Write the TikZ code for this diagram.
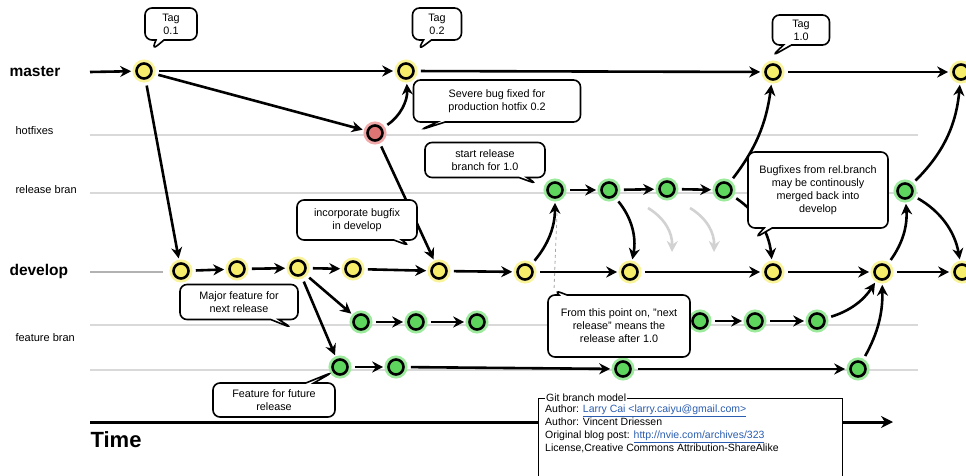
\documentclass[tikz,border=0pt]{standalone}
\usepackage{fontspec}
\setmainfont{Liberation Sans}
\usetikzlibrary{arrows.meta,shapes.callouts}
\definecolor{cmtyellow}{HTML}{F6EE6A}
\definecolor{haloyellow}{HTML}{F9F39A}
\definecolor{cmtgreen}{HTML}{5ED65E}
\definecolor{halogreen}{HTML}{9CEB9C}
\definecolor{cmtred}{HTML}{DE7474}
\definecolor{halored}{HTML}{F0A8A8}
\definecolor{linkblue}{HTML}{2A5DB0}
\newcommand{\weblink}[1]{\textcolor{linkblue}{\underline{#1}}}
\begin{document}
\begin{tikzpicture}[x=1pt,y=-1pt,
cmt/.style={circle,draw,line width=2.6pt,minimum size=15pt,inner sep=0pt},
cY/.style={cmt,fill=cmtyellow,preaction={draw=haloyellow,line width=8pt}},
cG/.style={cmt,fill=cmtgreen,preaction={draw=halogreen,line width=8pt}},
cR/.style={cmt,fill=cmtred,preaction={draw=halored,line width=8pt}},
ar/.style={line width=2.6pt,-{Stealth[length=11pt,width=11pt]},shorten >=4pt,shorten <=6pt},
gar/.style={ar,draw=gray!35,shorten >=0pt,shorten <=0pt},
lane/.style={gray!30,line width=2.2pt},
lbl/.style={anchor=west,font=\fontsize{11}{13}\selectfont},
lblbig/.style={anchor=west,font=\fontsize{15.5}{18}\selectfont\bfseries},
bubble/.style={rectangle callout,draw,line width=1.6pt,fill=white,rounded corners=7pt,align=center,font=\fontsize{10.8}{13}\selectfont,callout pointer width=8pt,inner sep=0pt}]
\useasboundingbox(0,0) rectangle (966,476);
\coordinate(HOTA) at (90,135);
\coordinate(HOTB) at (918,135);
\coordinate(RELA) at (90,193);
\coordinate(RELB) at (918,193);
\coordinate(FEATA) at (90,325);
\coordinate(FEATB) at (918,325);
\coordinate(FUTA) at (90,370);
\coordinate(FUTB) at (918,370);
\coordinate(DEVA) at (90,272);
\coordinate(DEVB) at (163,272);
\draw[lane](HOTA)--(HOTB);
\draw[lane](RELA)--(RELB);
\draw[lane](FEATA)--(FEATB);
\draw[lane](FUTA)--(FUTB);
\draw[gray!60,line width=2.6pt](DEVA)--(DEVB);
\node[lblbig](MASTERL) at (6,72){master};
\node[lbl](HOTL) at (12,131){hotfixes};
\node[lbl](RELL) at (12,190){release bran};
\node[lblbig](DEVL) at (6,271){develop};
\node[lbl](FEATL) at (12,338){feature bran};
\node[cY](M1) at (144,71){};
\node[cY](M2) at (406,71){};
\node[cY](M3) at (773,72){};
\node[cY](M4) at (961,72){};
\node[cR](H1) at (375,133){};
\node[cG](R1) at (555,190){};
\node[cG](R2) at (609,190){};
\node[cG](R3) at (667,189){};
\node[cG](R4) at (724,190){};
\node[cG](R5) at (905,191){};
\node[cY](D1) at (181,271){};
\node[cY](D2) at (237,269){};
\node[cY](D3) at (298,268){};
\node[cY](D4) at (353,269){};
\node[cY](D5) at (439,271){};
\node[cY](D6) at (525,272){};
\node[cY](D7) at (630,272){};
\node[cY](D8) at (773,272){};
\node[cY](D9) at (882,272){};
\node[cY](D10) at (962,272){};
\node[cG](F1) at (361,322){};
\node[cG](F2) at (416,322){};
\node[cG](F3) at (477,322){};
\node[cG](F4) at (700,321){};
\node[cG](F5) at (755,321){};
\node[cG](F6) at (817,321){};
\node[cG](G1) at (340,367){};
\node[cG](G2) at (396,367){};
\node[cG](G3) at (623,369){};
\node[cG](G4) at (858,369){};
\coordinate(MSTART) at (90,72);
\draw[ar,shorten <=0pt](MSTART)--(M1);
\draw[ar](M1)--(M2);
\draw[ar](M2)--(M3);
\draw[ar](M3)--(M4);
\draw[ar](M1)--(H1);
\draw[ar](M1)--(D1);
\draw[ar](H1) to[bend right=30] (M2);
\draw[ar](H1)--(D5);
\draw[ar](D1)--(D2);
\draw[ar](D2)--(D3);
\draw[ar](D3)--(D4);
\draw[ar](D4)--(D5);
\draw[ar](D5)--(D6);
\draw[ar](D6)--(D7);
\draw[ar](D7)--(D8);
\draw[ar](D8)--(D9);
\draw[ar](D9)--(D10);
\draw[ar](D3)--(F1);
\draw[ar](D3)--(G1);
\draw[ar](F1)--(F2);
\draw[ar](F2)--(F3);
\draw[ar](F4)--(F5);
\draw[ar](F5)--(F6);
\draw[ar](G1)--(G2);
\draw[ar](G2)--(G3);
\draw[ar](G3)--(G4);
\draw[ar](D6) to[bend right=20] (R1);
\draw[ar](R1)--(R2);
\draw[ar](R2)--(R3);
\draw[ar](R3)--(R4);
\draw[ar](R2) to[bend left=25] (D7);
\coordinate(GA1) at (648,208);
\coordinate(GA2) at (672,252);
\coordinate(GB1) at (690,208);
\coordinate(GB2) at (714,252);
\draw[gar](GA1) to[bend left=30] (GA2);
\draw[gar](GB1) to[bend left=30] (GB2);
\draw[ar](R4) to[bend right=15] (M3);
\draw[ar](R4) to[bend left=25] (D8);
\draw[ar](D9) to[bend right=20] (R5);
\draw[ar](R5) to[bend right=20] (M4);
\draw[ar](R5) to[bend left=25] (D10);
\draw[ar](F6) to[bend right=20] (D9);
\draw[ar](G4) to[bend right=15] (D9);
\coordinate(TAG01P) at (152,50);
\coordinate(TAG02P) at (418,50);
\coordinate(TAG10P) at (772,56);
\coordinate(SEVEREP) at (420,130);
\coordinate(STARTP) at (537,184);
\coordinate(INCORPP) at (410,246);
\coordinate(BUGFIXP) at (755,238);
\coordinate(MAJORP) at (292,328);
\coordinate(NEXTRELP) at (554,290);
\coordinate(FUTUREP) at (333,372);
\coordinate(DASHA) at (557,213);
\draw[dashed,gray!70,line width=0.8pt](DASHA)--(NEXTRELP);
\node[bubble,minimum width=52pt,minimum height=32pt,callout absolute pointer=(TAG01P)](TAG01) at (171,24){Tag\\0.1};
\node[bubble,minimum width=49pt,minimum height=32pt,callout absolute pointer=(TAG02P)](TAG02) at (437,24){Tag\\0.2};
\node[bubble,minimum width=57pt,minimum height=30pt,callout absolute pointer=(TAG10P)](TAG10) at (801,30){Tag\\1.0};
\node[bubble,minimum width=167pt,minimum height=42pt,callout absolute pointer=(SEVEREP)](SEVERE) at (497,101){Severe bug fixed for\\production hotfix 0.2};
\node[bubble,minimum width=120pt,minimum height=35pt,callout absolute pointer=(STARTP)](START) at (485,160){start release\\branch for 1.0};
\node[bubble,minimum width=120pt,minimum height=40pt,callout absolute pointer=(INCORPP)](INCORP) at (357,220){incorporate bugfix\\in develop};
\node[bubble,minimum width=140pt,minimum height=76pt,callout absolute pointer=(BUGFIXP)](BUGFIX) at (818,190){Bugfixes from rel.branch\\may be continously\\merged back into\\develop};
\node[bubble,minimum width=118pt,minimum height=35pt,callout absolute pointer=(MAJORP)](MAJOR) at (239,302){Major feature for\\next release};
\node[bubble,minimum width=142pt,minimum height=62pt,callout absolute pointer=(NEXTRELP)](NEXTREL) at (619,326){From this point on, "next\\release" means the\\release after 1.0};
\node[bubble,minimum width=122pt,minimum height=34pt,callout absolute pointer=(FUTUREP)](FUTURE) at (274,400){Feature for future\\release};
\coordinate(TSTART) at (90,422);
\coordinate(TEND) at (893,422);
\draw[line width=3pt,-{Stealth[length=12pt,width=12pt]}](TSTART)--(TEND);
\node[anchor=west,font=\fontsize{22}{26}\selectfont\bfseries](TIMEL) at (87,440){Time};
\node[draw,line width=1.4pt,fill=white,anchor=north west,minimum width=304pt,minimum height=95pt](GITBOX) at (538,398){};
\node[fill=white,inner sep=1pt,anchor=west,font=\fontsize{10.5}{12}\selectfont](GITTITLE) at ([xshift=7pt]GITBOX.north west){Git branch model};
\node[anchor=north west,align=left,inner sep=0pt,font=\fontsize{10.5}{13}\selectfont](GITTEXT) at (545,405){Author: \weblink{Larry Cai <larry.caiyu@gmail.com>}\\Author: Vincent Driessen\\Original blog post: \weblink{http://nvie.com/archives/323}\\License,Creative Commons Attribution-ShareAlike};
\end{tikzpicture}
\end{document}
